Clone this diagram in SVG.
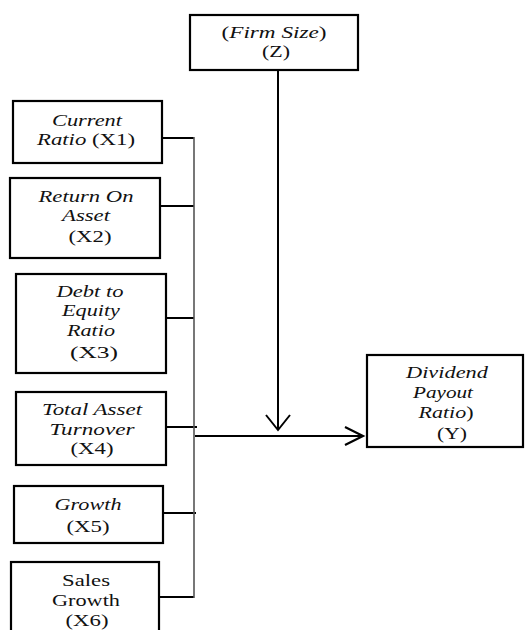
<svg xmlns="http://www.w3.org/2000/svg" width="526" height="630" viewBox="0 0 526 630">
<defs>
<style>
.box{fill:#fff;stroke:#000;stroke-width:2.2}
.t{font-family:"Liberation Serif","Times New Roman",serif;font-size:17px;fill:#111;text-anchor:middle}
.i{font-style:italic}
.ln{fill:none;stroke:#000;stroke-width:2}
.v{fill:none;stroke:#555;stroke-width:1.6}
</style>
<marker id="ah" markerUnits="userSpaceOnUse" markerWidth="24" markerHeight="24" refX="20" refY="12" orient="auto" viewBox="0 0 24 24">
<path d="M2,3 L20,12 L2,21" fill="none" stroke="#000" stroke-width="2.2"/>
</marker>
</defs>
<rect width="526" height="630" fill="#fff"/>
<g id="connectors">
<line class="ln" x1="162" y1="138" x2="194" y2="138"/>
<line class="ln" x1="160" y1="206" x2="194" y2="206"/>
<line class="ln" x1="166" y1="318" x2="194" y2="318"/>
<line class="ln" x1="166" y1="427" x2="197" y2="427"/>
<line class="ln" x1="163" y1="513" x2="196" y2="513"/>
<line class="ln" x1="159" y1="597" x2="194" y2="597"/>
<line class="v" x1="194" y1="137" x2="194" y2="598"/>
<line class="ln" x1="195" y1="436" x2="363" y2="436" marker-end="url(#ah)"/>
<path class="ln" d="M278,70 L278,429"/>
<path class="ln" d="M266,415 L278,430 L290,415"/>
</g>
<g id="Z">
<rect class="box" x="190" y="15" width="168" height="55"/>
<text class="t" x="274" y="38" textLength="105" lengthAdjust="spacingAndGlyphs">(<tspan class="i">Firm Size</tspan>)</text>
<text class="t" x="276" y="57" textLength="28" lengthAdjust="spacingAndGlyphs">(Z)</text>
</g>
<g id="X1">
<rect class="box" x="13" y="101" width="149" height="62"/>
<text class="t i" x="87" y="126" textLength="70" lengthAdjust="spacingAndGlyphs">Current</text>
<text class="t" x="86" y="145" textLength="98" lengthAdjust="spacingAndGlyphs"><tspan class="i">Ratio</tspan> (X1)</text>
</g>
<g id="X2">
<rect class="box" x="10" y="178" width="150" height="80"/>
<text class="t i" x="86" y="202" textLength="95" lengthAdjust="spacingAndGlyphs">Return On</text>
<text class="t i" x="86" y="221" textLength="48" lengthAdjust="spacingAndGlyphs">Asset</text>
<text class="t" x="90" y="242" textLength="43" lengthAdjust="spacingAndGlyphs">(X2)</text>
</g>
<g id="X3">
<rect class="box" x="16" y="274" width="150" height="99"/>
<text class="t i" x="90" y="297" textLength="67" lengthAdjust="spacingAndGlyphs">Debt to</text>
<text class="t i" x="91" y="316" textLength="58" lengthAdjust="spacingAndGlyphs">Equity</text>
<text class="t i" x="91" y="336" textLength="48" lengthAdjust="spacingAndGlyphs">Ratio</text>
<text class="t" x="94" y="358" textLength="48" lengthAdjust="spacingAndGlyphs">(X3)</text>
</g>
<g id="X4">
<rect class="box" x="16" y="392" width="150" height="73"/>
<text class="t i" x="92" y="415" textLength="100" lengthAdjust="spacingAndGlyphs">Total Asset</text>
<text class="t i" x="92" y="435" textLength="85" lengthAdjust="spacingAndGlyphs">Turnover</text>
<text class="t" x="92" y="454" textLength="43" lengthAdjust="spacingAndGlyphs">(X4)</text>
</g>
<g id="X5">
<rect class="box" x="14" y="486" width="149" height="57"/>
<text class="t i" x="88" y="510" textLength="67" lengthAdjust="spacingAndGlyphs">Growth</text>
<text class="t" x="88" y="532" textLength="43" lengthAdjust="spacingAndGlyphs">(X5)</text>
</g>
<g id="X6">
<rect class="box" x="11" y="562" width="148" height="80"/>
<text class="t" x="86" y="586" textLength="48" lengthAdjust="spacingAndGlyphs">Sales</text>
<text class="t" x="86" y="606" textLength="68" lengthAdjust="spacingAndGlyphs">Growth</text>
<text class="t" x="87" y="626" textLength="43" lengthAdjust="spacingAndGlyphs">(X6)</text>
</g>
<g id="Y">
<rect class="box" x="367" y="355" width="156" height="92"/>
<text class="t i" x="447" y="378" textLength="82" lengthAdjust="spacingAndGlyphs">Dividend</text>
<text class="t i" x="443" y="398" textLength="60" lengthAdjust="spacingAndGlyphs">Payout</text>
<text class="t" x="446" y="418" textLength="55" lengthAdjust="spacingAndGlyphs"><tspan class="i">Ratio</tspan>)</text>
<text class="t" x="452" y="439" textLength="30" lengthAdjust="spacingAndGlyphs">(Y)</text>
</g>
</svg>
